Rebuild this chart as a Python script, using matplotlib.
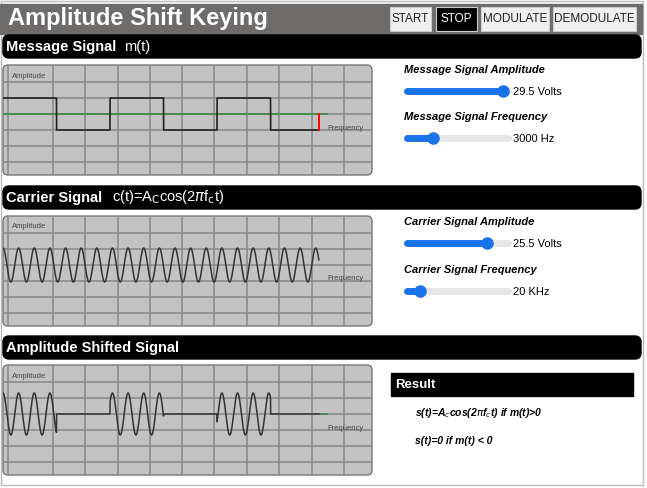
import numpy as np
import matplotlib
matplotlib.use("Agg")
import matplotlib.pyplot as plt
from matplotlib.patches import FancyBboxPatch, Rectangle

plt.rcParams["font.family"] = ["Liberation Sans", "DejaVu Sans"]

# ---- data ----
buttons = ["START", "STOP", "MODULATE", "DEMODULATE"]
active_button = "STOP"
msg_bits = [1, 0, 1, 0, 1, 0]
bit_len = 1.45          # time units per bit
sig_end = 8.56          # where the trace stops
axis_end = 8.78         # where the green baseline stops
msg_amp, car_amp, ask_amp = 16, 17, 21
carrier_cycles_per_unit = 2.36
sliders = [
    ("Message Signal Amplitude", "29.5 Volts", 0.95),
    ("Message Signal Frequency", "3000 Hz", 0.26),
    ("Carrier Signal Amplitude", "25.5 Volts", 0.79),
    ("Carrier Signal Frequency", "20 KHz", 0.13),
]

W, H = 647, 488
fig = plt.figure(figsize=(W / 100, H / 100), dpi=100)
ax = fig.add_axes([0, 0, 1, 1])
ax.set_xlim(0, W)
ax.set_ylim(H, 0)
ax.axis("off")

# outer frame
ax.add_patch(Rectangle((0.5, 0.5), 642, 484, fill=False, ec="#bbbbbb", lw=1))

# title bar
ax.add_patch(Rectangle((0, 4), 642, 30, color="#6e6b6b"))
ax.text(8, 19, "Amplitude Shift Keying", color="white", fontsize=17,
        fontweight="bold", va="center")
bx = [(390, 41), (436, 41), (481, 68), (553, 83)]
for (x0, w), name in zip(bx, buttons):
    on = name == active_button
    ax.add_patch(Rectangle((x0, 7), w, 24, color="black" if on else "#efefef",
                           ec="#cccccc", lw=0.8))
    ax.text(x0 + w / 2, 19, name, color="white" if on else "#222222",
            fontsize=8.5, ha="center", va="center")


def section_bar(y, label):
    ax.add_patch(FancyBboxPatch((3, y), 638, 23, boxstyle="round,pad=0,rounding_size=6",
                                color="black"))
    ax.text(6, y + 12, label, color="white", fontsize=10.5, fontweight="bold",
            va="center")


section_bar(35, "Message Signal")
ax.text(124, 47, "m(t)", color="white", fontsize=10.5, va="center")
section_bar(186, "Carrier Signal")
ax.text(112, 197, r"c(t)=A$_{\rm C}$cos(2$\pi$f$_{\rm c}$t)", color="white",
        fontsize=10.5, va="center")
section_bar(336, "Amplitude Shifted Signal")


def scope(top):
    ax.add_patch(FancyBboxPatch((3, top), 369, 110, boxstyle="round,pad=0,rounding_size=5",
                                fc="#c3c3c3", ec="#777777", lw=1))
    sa = fig.add_axes([3 / W, 1 - (top + 110) / H, 369 / W, 110 / H])
    sa.set_xlim(0, 10)
    sa.set_ylim(-61, 49)
    sa.axis("off")
    for xv in [8, 53, 85, 118, 150, 182, 214, 247, 279, 312, 344]:
        sa.axvline((xv - 3) / 36.9, color="#888888", lw=1.1)
    for yv in [32, 16, 0, -16, -32, -48]:
        sa.axhline(yv, color="#888888", lw=1.1)
    sa.text(0.25, 38, "Amplitude", fontsize=5.5, color="#444444", va="center")
    sa.text(8.78, -14, "Frequency", fontsize=5.5, color="#444444", va="center")
    return sa


t = np.linspace(0, sig_end, 4000)
m = np.array(msg_bits)[np.minimum((t // bit_len).astype(int), len(msg_bits) - 1)]
carrier = np.cos(2 * np.pi * carrier_cycles_per_unit * t)

s1 = scope(65)
s1.plot([0, axis_end], [0, 0], color="#3d8a3d", lw=1.2)
s1.plot(t, np.where(m > 0, msg_amp, -msg_amp), color="#222222", lw=1.2)
s1.plot([sig_end, sig_end], [0, -msg_amp], color="red", lw=1.4)

s2 = scope(216)
s2.plot(t, car_amp * carrier, color="#333333", lw=1.1)

s3 = scope(365)
s3.plot([sig_end, axis_end], [0, 0], color="#3d8a3d", lw=1.2)
s3.plot(t, ask_amp * carrier * m, color="#333333", lw=1.1)

# sliders
for i, (label, val, frac) in enumerate(sliders):
    y0 = [70, 117, 222, 270][i]
    ax.text(404, y0, label, fontsize=8, fontweight="bold", style="italic", va="center")
    sy = y0 + 21
    x0, x1 = 407, 508
    xt = x0 + frac * (x1 - x0)
    ax.plot([x0, x1], [sy, sy], color="#e6e6e6", lw=5, solid_capstyle="round")
    ax.plot([x0, xt], [sy, sy], color="#1a73e8", lw=5, solid_capstyle="round")
    ax.plot(xt, sy, "o", color="#1a73e8", ms=8)
    ax.text(513, sy + 1, val, fontsize=8, va="center")

# result box
ax.add_patch(Rectangle((391, 373), 242, 23, color="black"))
ax.text(395, 384.5, "Result", color="white", fontsize=9.5, fontweight="bold", va="center")
ax.text(415, 413, r"s(t)=A$_c$cos(2$\pi$f$_c$t) if m(t)>0", fontsize=7.5,
        fontweight="bold", style="italic", va="center")
ax.text(415, 441, "s(t)=0 if m(t) < 0", fontsize=7.5, fontweight="bold",
        style="italic", va="center")

fig.savefig("out.png", dpi=100, facecolor="white")
